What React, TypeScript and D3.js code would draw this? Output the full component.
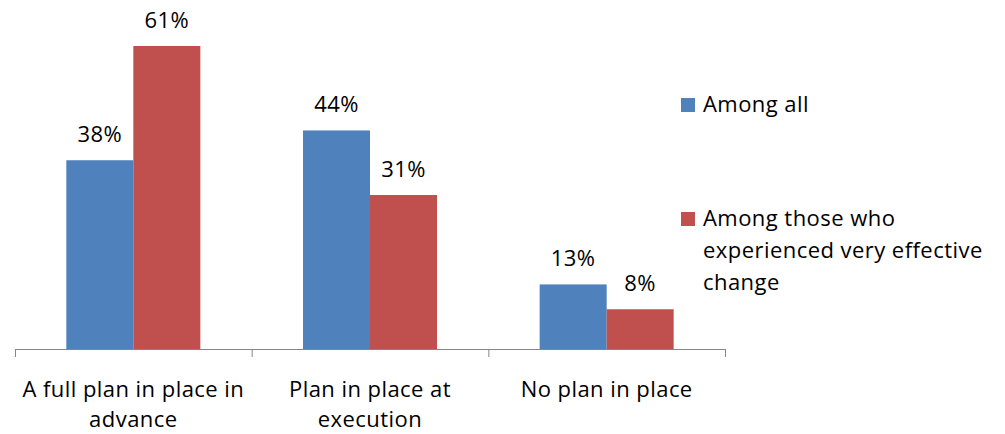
import React from "react";
import * as d3 from "d3";

const categories = [["A full plan in place in", "advance"], ["Plan in place at", "execution"], ["No plan in place"]];
const seriesNames = ["Among all", "Among those who experienced very effective change"];
const legendLines = [["Among all"], ["Among those who", "experienced very effective", "change"]];
const amongAll = [38, 44, 13];
const amongEffective = [61, 31, 8];
const colors = ["#4F81BD", "#C0504D"];

const FONT = "'Open Sans', sans-serif";
const FS = 22;
const LS = 0.45;

export default function App() {
  const W = 1005, H = 434;
  const x0 = 15, x1 = 725, baseY = 349;
  const keys = categories.map((_, i) => String(i));
  const x = d3.scaleBand().domain(keys).range([x0, x1]).paddingInner(0).paddingOuter(0);
  const inner = d3.scaleBand().domain(["0", "1"]).range([0, x.bandwidth()]).paddingInner(0).paddingOuter(0.766);
  const y = d3.scaleLinear().domain([0, 61]).range([baseY, 46]);
  const series = [amongAll, amongEffective];
  const ticks = d3.range(categories.length + 1).map(i => x0 + i * x.bandwidth());

  return (
    <svg width={W} height={H} style={{ position: "absolute", left: 0, top: 0 }} fontFamily={FONT} letterSpacing={LS}>
      <rect width={W} height={H} fill="#fff" />
      {series.map((vals, s) =>
        vals.map((v, i) => (
          <rect key={`${s}-${i}`} x={(x(String(i)) as number) + (inner(String(s)) as number)} y={y(v)}
            width={inner.bandwidth()} height={baseY - y(v)} fill={colors[s]} />
        ))
      )}
      {series.map((vals, s) =>
        vals.map((v, i) => (
          <text key={`l${s}-${i}`} x={(x(String(i)) as number) + (inner(String(s)) as number) + inner.bandwidth() / 2}
            y={y(v) - 18} textAnchor="middle" fontSize={FS} fill="#000">{v}%</text>
        ))
      )}
      <line x1={x0} x2={x1} y1={baseY + 0.5} y2={baseY + 0.5} stroke="#868686" strokeWidth={1} />
      {ticks.map((t, i) => (
        <line key={i} x1={t + 0.5} x2={t + 0.5} y1={baseY} y2={baseY + 8} stroke="#868686" />
      ))}
      {categories.map((lines, i) => (
        <text key={i} textAnchor="middle" fontSize={FS} fill="#000">
          {lines.map((l, j) => (
            <tspan key={j} x={(x(String(i)) as number) + x.bandwidth() / 2} y={397 + j * 30}>{l}</tspan>
          ))}
        </text>
      ))}
      {legendLines.map((lines, s) => {
        const top = s === 0 ? 98 : 212;
        return (
          <g key={s}>
            <rect x={681} y={top} width={14} height={14} fill={colors[s]} />
            <text fontSize={FS} fill="#000">
              {lines.map((l, j) => (
                <tspan key={j} x={703} y={top + 14 + j * 32}>{l}</tspan>
              ))}
            </text>
          </g>
        );
      })}
    </svg>
  );
}
